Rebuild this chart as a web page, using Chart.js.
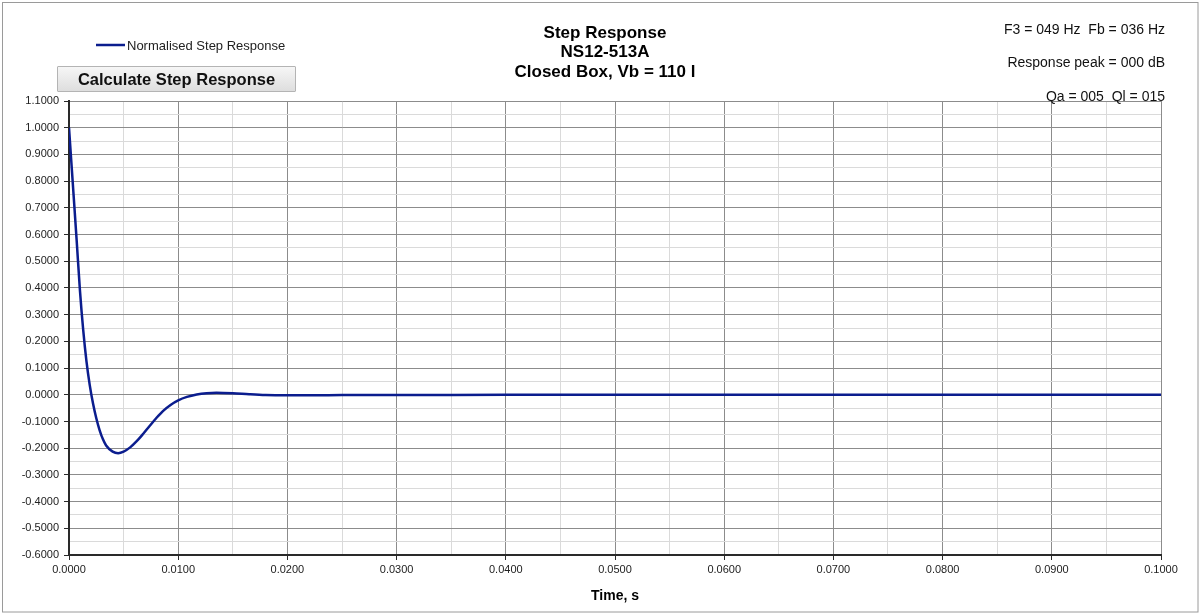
<!doctype html>
<html>
  <head>
    <meta charset="utf-8" />
    <title>Step Response</title>
    <script src="https://cdn.jsdelivr.net/npm/chart.js@4/dist/chart.umd.min.js"></script>
    <style>
      body { margin: 0; background: #fff; }
      #wrap { position: relative; width: 1200px; height: 615px; }
      #calc {
        position: absolute; left: 57px; top: 66px; width: 239px; height: 26px;
        font: bold 16.5px "Liberation Sans", Arial, sans-serif; color: #111;
        background: linear-gradient(#f6f6f6, #dedede); border: 1px solid #b4b4b4;
        border-radius: 1px; padding: 0;
      }
    </style>
    <script>
      // values
      const timeS = [0, 0.0002, 0.0004, 0.0007, 0.001, 0.0013, 0.0016, 0.0019, 0.0022, 0.0025,
        0.0028, 0.0031, 0.0034, 0.004, 0.0045, 0.005, 0.0056, 0.0062, 0.0068, 0.0074,
        0.008, 0.0086, 0.0093, 0.01, 0.0108, 0.0117, 0.0126, 0.0135, 0.015, 0.0165,
        0.018, 0.02, 0.0225, 0.025, 0.03, 0.04, 0.05, 0.06, 0.07, 0.08, 0.09, 0.1];
      const stepResp = [1.0, 0.88, 0.76, 0.579, 0.392, 0.243, 0.125, 0.036, -0.033, -0.088,
        -0.132, -0.166, -0.19, -0.213, -0.219, -0.213, -0.197, -0.174, -0.146, -0.116,
        -0.087, -0.061, -0.038, -0.021, -0.008, 0.001, 0.006, 0.008, 0.006, 0.002,
        -0.001, -0.002, -0.002, -0.001, -0.001, 0, 0, 0, 0, 0, 0, 0];
      const seriesName = "Normalised Step Response";
      const titleLines = ["Step Response", "NS12-513A", "Closed Box, Vb = 110 l"];
      const infoLines = ["F3 = 049 Hz  Fb = 036 Hz", "Response peak = 000 dB", "Qa = 005  Ql = 015"];
      const xTitle = "Time, s";

      const lineColor = "#0b1d8e";
      const isMajor = (v, step) => Math.abs(Math.round(v / step) - v / step) < 1e-6;

      // title, legend, notes and the frame are drawn here
      const textPlugin = {
        id: "texts",
        afterDraw(chart) {
          const ctx = chart.ctx;
          ctx.save();
          ctx.strokeStyle = "#9a9a9a";
          ctx.lineWidth = 1;
          ctx.strokeRect(2.5, 2.5, 1195.5, 609.5);

          ctx.fillStyle = "#000";
          ctx.textAlign = "center";
          ctx.textBaseline = "middle";
          ctx.font = 'bold 17px "Liberation Sans", Arial, sans-serif';
          titleLines.forEach((t, i) => ctx.fillText(t, 605, 33 + i * 19.5));

          ctx.fillStyle = "#111";
          ctx.textAlign = "right";
          ctx.font = '14px "Liberation Sans", Arial, sans-serif';
          infoLines.forEach((t, i) => ctx.fillText(t, 1165, 30 + i * 33.5));

          ctx.strokeStyle = lineColor;
          ctx.lineWidth = 2.5;
          ctx.beginPath();
          ctx.moveTo(96, 45);
          ctx.lineTo(125, 45);
          ctx.stroke();
          ctx.fillStyle = "#222";
          ctx.textAlign = "left";
          ctx.font = '13px "Liberation Sans", Arial, sans-serif';
          ctx.fillText(seriesName, 127, 46);
          ctx.restore();
        },
      };

      function iniciar() {
        const canvas = document.getElementById("chart");
        new Chart(canvas, {
          type: "line",
          data: {
            datasets: [
              {
                label: seriesName,
                data: timeS.map((t, i) => ({ x: t, y: stepResp[i] })),
                borderColor: lineColor,
                borderWidth: 2.5,
                pointRadius: 0,
                cubicInterpolationMode: "monotone",
              },
            ],
          },
          options: {
            responsive: false,
            animation: false,
            layout: { padding: { left: 10, right: 39, top: 101, bottom: 0 } },
            plugins: { legend: { display: false }, tooltip: { enabled: false } },
            scales: {
              x: {
                type: "linear",
                min: 0,
                max: 0.1,
                afterFit: (s) => { s.height = 60; },
                border: { color: "#2a2a2a", width: 2 },
                grid: {
                  color: (c) => (isMajor(c.tick.value, 0.01) ? "#8c8c8c" : "#dadada"),
                  tickColor: (c) => (isMajor(c.tick.value, 0.01) ? "#2a2a2a" : "rgba(0,0,0,0)"),
                  tickLength: 5,
                },
                ticks: {
                  stepSize: 0.005,
                  autoSkip: false,
                  maxRotation: 0,
                  padding: 3,
                  color: "#222",
                  font: { family: '"Liberation Sans", Arial, sans-serif', size: 11 },
                  callback: (v) => (isMajor(v, 0.01) ? v.toFixed(4) : ""),
                },
                title: {
                  display: true,
                  text: xTitle,
                  color: "#000",
                  font: { family: '"Liberation Sans", Arial, sans-serif', size: 14, weight: "bold" },
                  padding: { top: 0, bottom: 10 },
                },
              },
              y: {
                min: -0.6,
                max: 1.1,
                afterFit: (s) => { s.width = 59; },
                border: { color: "#2a2a2a", width: 2 },
                grid: {
                  color: (c) => (isMajor(c.tick.value, 0.1) ? "#8c8c8c" : "#dadada"),
                  tickColor: (c) => (isMajor(c.tick.value, 0.1) ? "#2a2a2a" : "rgba(0,0,0,0)"),
                  tickLength: 5,
                },
                ticks: {
                  stepSize: 0.05,
                  autoSkip: false,
                  padding: 5,
                  color: "#222",
                  font: { family: '"Liberation Sans", Arial, sans-serif', size: 11 },
                  callback: (v) => (isMajor(v, 0.1) ? v.toFixed(4) : ""),
                },
              },
            },
          },
          plugins: [textPlugin],
        });
      }

      document.addEventListener("DOMContentLoaded", iniciar);
    </script>
  </head>
  <body>
    <div id="wrap">
      <canvas id="chart" width="1200" height="615"></canvas>
      <button id="calc">Calculate Step Response</button>
    </div>
  </body>
</html>
